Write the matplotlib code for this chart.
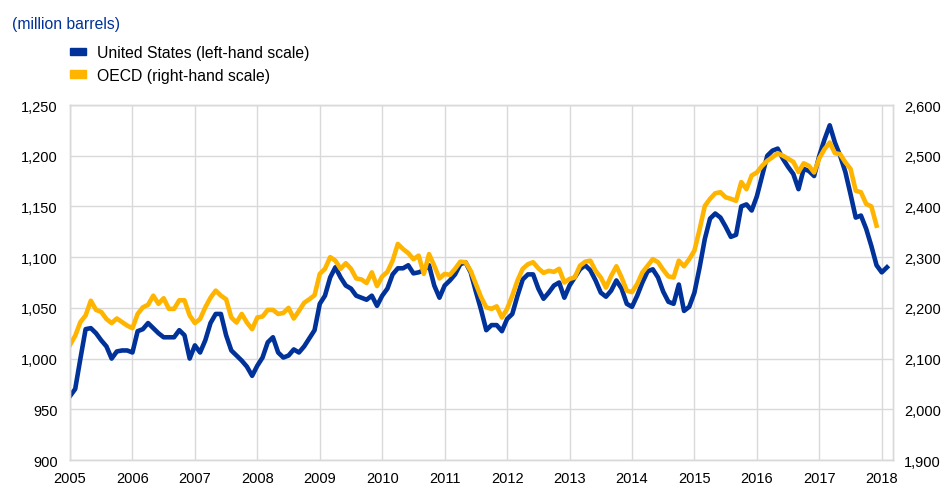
import numpy as np
import matplotlib
matplotlib.use('Agg')
from matplotlib import pyplot as plt
from matplotlib.patches import Patch
from matplotlib.ticker import FuncFormatter

plt.rcParams['font.family'] = ['Liberation Sans', 'DejaVu Sans']

# monthly crude oil stocks, Jan 2005 onwards (million barrels)
us_stocks = [
    963, 970, 1000, 1029, 1030, 1025, 1018, 1012, 1000, 1007, 1008, 1008,   # 2005
    1006, 1027, 1029, 1035, 1030, 1025, 1021, 1021, 1021, 1028, 1023, 1000, # 2006
    1013, 1006, 1018, 1035, 1044, 1044, 1023, 1008, 1003, 998, 992, 983,    # 2007
    993, 1001, 1016, 1021, 1006, 1001, 1003, 1009, 1006, 1012, 1020, 1028,  # 2008
    1054, 1062, 1080, 1090, 1080, 1072, 1069, 1062, 1060, 1058, 1062, 1052, # 2009
    1062, 1069, 1083, 1089, 1089, 1092, 1084, 1085, 1087, 1092, 1072, 1060, # 2010
    1072, 1077, 1083, 1093, 1095, 1085, 1066, 1048, 1028, 1033, 1033, 1027, # 2011
    1039, 1044, 1062, 1078, 1083, 1083, 1069, 1059, 1065, 1072, 1075, 1060, # 2012
    1072, 1080, 1088, 1092, 1087, 1077, 1065, 1061, 1067, 1077, 1069, 1054, # 2013
    1051, 1062, 1075, 1086, 1088, 1080, 1066, 1056, 1054, 1073, 1047, 1051, # 2014
    1065, 1090, 1118, 1138, 1143, 1139, 1130, 1120, 1122, 1150, 1152, 1146, # 2015
    1160, 1180, 1200, 1205, 1207, 1197, 1189, 1182, 1167, 1187, 1185, 1180, # 2016
    1200, 1216, 1230, 1213, 1200, 1184, 1162, 1139, 1141, 1128, 1111, 1092, # 2017
    1085, 1090,                                                             # 2018
]
oecd_stocks = [
    2127, 2145, 2172, 2185, 2214, 2196, 2192, 2178, 2170, 2179, 2172, 2165,
    2160, 2188, 2201, 2206, 2224, 2208, 2219, 2198, 2198, 2215, 2215, 2185,
    2170, 2178, 2201, 2220, 2234, 2224, 2217, 2181, 2171, 2188, 2171, 2158,
    2181, 2183, 2196, 2196, 2188, 2190, 2200, 2179, 2194, 2210, 2217, 2225,
    2267, 2277, 2300, 2293, 2277, 2288, 2277, 2258, 2256, 2249, 2270, 2243,
    2262, 2271, 2293, 2326, 2316, 2308, 2296, 2303, 2267, 2306, 2283, 2258,
    2267, 2265, 2277, 2291, 2290, 2273, 2247, 2221, 2201, 2198, 2203, 2181,
    2198, 2224, 2254, 2277, 2286, 2290, 2278, 2269, 2273, 2271, 2277, 2250,
    2257, 2260, 2283, 2291, 2293, 2273, 2260, 2240, 2263, 2282, 2260, 2234,
    2231, 2247, 2270, 2283, 2296, 2290, 2275, 2262, 2260, 2293, 2282, 2296,
    2313, 2355, 2401, 2415, 2426, 2428, 2418, 2415, 2411, 2448, 2434, 2461,
    2467, 2480, 2490, 2497, 2505, 2500, 2494, 2488, 2468, 2485, 2480, 2467,
    2495, 2513, 2526, 2505, 2503, 2487, 2474, 2431, 2428, 2405, 2400, 2362,
]
years = list(range(2005, 2019))

t_us = 2005 + np.arange(len(us_stocks)) / 12.0
t_oecd = 2005 + np.arange(len(oecd_stocks)) / 12.0

blue = '#003299'
yellow = '#ffb400'
grid_col = '#d9d9d9'

fig = plt.figure(figsize=(9.49, 4.89), dpi=100)
ax = fig.add_axes([70/949, 1 - 461/489, (893-70)/949, (461-106)/489])
ax2 = ax.twinx()

ax.plot(t_us, us_stocks, color=blue, lw=3.3, solid_joinstyle='round')
ax2.plot(t_oecd, oecd_stocks, color=yellow, lw=3.3, solid_joinstyle='round')

ax.set_xlim(2005, 2018.18)
ax.set_ylim(900, 1250)
ax2.set_ylim(1900, 2600)
ax.set_xticks(years)
ax.set_yticks(np.arange(900, 1251, 50))
ax2.set_yticks(np.arange(1900, 2601, 100))
fmt = FuncFormatter(lambda v, p: '{:,.0f}'.format(v))
ax.yaxis.set_major_formatter(fmt)
ax2.yaxis.set_major_formatter(fmt)

ax.grid(True, color=grid_col, lw=1)
ax.set_axisbelow(True)
for a in (ax, ax2):
    for s in a.spines.values():
        s.set_color(grid_col)
        s.set_linewidth(1)
ax.tick_params(axis='x', length=0, pad=8, labelsize=10.5)
ax.tick_params(axis='y', length=0, pad=9, labelsize=10.5)
ax2.tick_params(axis='y', length=0, pad=8, labelsize=10.5)

fig.text(12/949, 1 - 24/489, '(million barrels)', color=blue, fontsize=11.3, va='center')

handles = [Patch(color=blue), Patch(color=yellow)]
fig.legend(handles, ['United States (left-hand scale)', 'OECD (right-hand scale)'],
           loc='upper left', bbox_to_anchor=(70/949, 1 - 46/489), frameon=False,
           fontsize=11.3, handlelength=1.0, handleheight=0.37, handletextpad=0.7,
           labelspacing=0.48, borderpad=0, borderaxespad=0)

plt.savefig('out.png', dpi=100, facecolor='w')
